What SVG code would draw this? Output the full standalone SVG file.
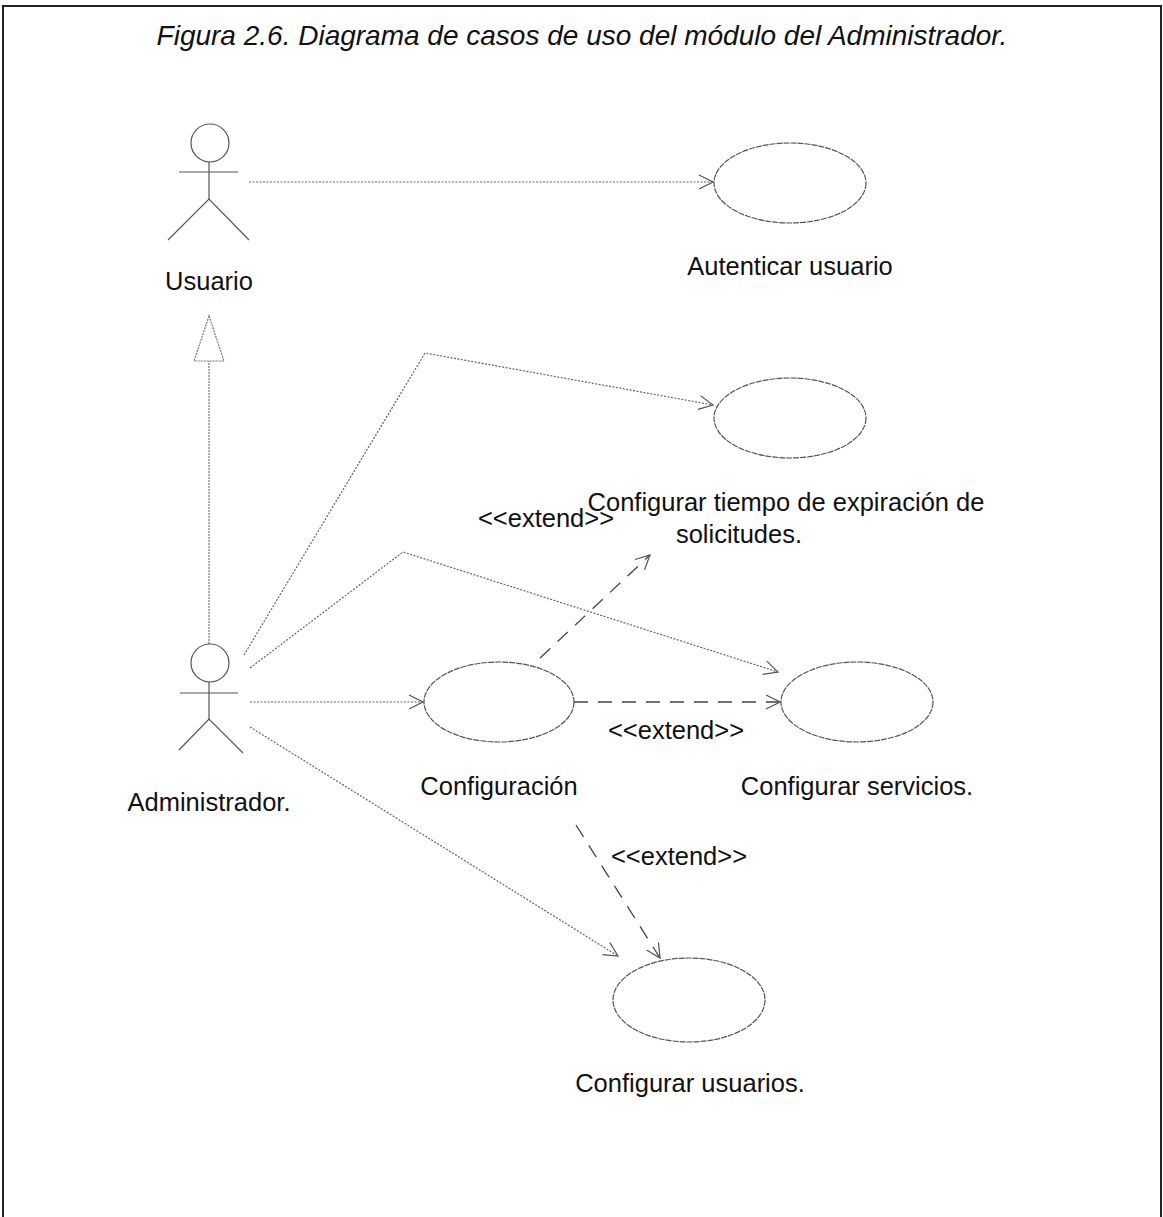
<svg xmlns="http://www.w3.org/2000/svg" width="1163" height="1217" viewBox="0 0 1163 1217">
  <style>
    .frame { fill: none; stroke: #222; stroke-width: 2; }
    .title { font-family: "Liberation Sans", Arial, sans-serif; font-size: 28px; font-style: italic; fill: #111; }
    .label { font-family: "Liberation Sans", Arial, sans-serif; font-size: 25.5px; fill: #111; }
    .uc { fill: none; stroke: #555; stroke-width: 1.2; stroke-dasharray: 6 1; }
    .actor { fill: none; stroke: #555; stroke-width: 1.2; }
    .assoc { fill: none; stroke: #666; stroke-width: 1.2; stroke-dasharray: 2 1.5; }
    .ext { fill: none; stroke: #444; stroke-width: 1.3; stroke-dasharray: 14 10; }
    .gen { fill: none; stroke: #777; stroke-width: 1.2; stroke-dasharray: 2 1; }
  </style>
  <defs>
    <marker id="open" viewBox="0 0 16 16" refX="15" refY="8" markerWidth="16" markerHeight="16" markerUnits="userSpaceOnUse" orient="auto">
      <path d="M1,1 L15,8 L1,15" fill="none" stroke="#555" stroke-width="1.2"/>
    </marker>
  </defs>

  <rect width="1163" height="1217" fill="#fff"/>
  <path class="frame" d="M3,1217 L3,6 L1161,6 L1161,1217"/>
  <text class="title" x="582" y="45" text-anchor="middle">Figura 2.6. Diagrama de casos de uso del módulo del Administrador.</text>

  <!-- connectors -->
  <g id="connectors">
    <line class="assoc" x1="249" y1="182" x2="713" y2="182" marker-end="url(#open)"/>
    <polyline class="assoc" points="244,655 425,353 713,405" marker-end="url(#open)"/>
    <polyline class="assoc" points="250,668 403,552 778,672" marker-end="url(#open)"/>
    <line class="assoc" x1="250" y1="702" x2="423" y2="702" marker-end="url(#open)"/>
    <line class="assoc" x1="250" y1="727" x2="618" y2="956" marker-end="url(#open)"/>
    <line class="ext" x1="574" y1="702" x2="780" y2="702" marker-end="url(#open)"/>
    <line class="ext" x1="540" y1="658" x2="650" y2="555" marker-end="url(#open)"/>
    <line class="ext" x1="576" y1="825" x2="660" y2="958" marker-end="url(#open)"/>
    <!-- generalization Administrador -> Usuario -->
    <line class="gen" x1="209" y1="644" x2="209" y2="361"/>
    <polygon points="209,316 194,361 224,361" fill="#fff" stroke="#777" stroke-width="1.2" stroke-dasharray="2 1"/>
    <text class="label" x="546" y="527" text-anchor="middle">&lt;&lt;extend&gt;&gt;</text>
    <text class="label" x="676" y="739" text-anchor="middle">&lt;&lt;extend&gt;&gt;</text>
    <text class="label" x="679" y="865" text-anchor="middle">&lt;&lt;extend&gt;&gt;</text>
  </g>

  <!-- actors -->
  <g id="actor-usuario">
    <circle class="actor" cx="210" cy="143" r="19"/>
    <line class="actor" x1="179" y1="172" x2="238" y2="172"/>
    <line class="actor" x1="209" y1="162" x2="209" y2="199"/>
    <polyline class="actor" points="168,240 209,199 249,240"/>
    <text class="label" x="209" y="290" text-anchor="middle">Usuario</text>
  </g>
  <g id="actor-administrador">
    <circle class="actor" cx="210" cy="663" r="19"/>
    <line class="actor" x1="180" y1="693" x2="238" y2="693"/>
    <line class="actor" x1="209" y1="682" x2="209" y2="719"/>
    <polyline class="actor" points="179,750 209,719 243,753"/>
    <text class="label" x="209" y="811" text-anchor="middle">Administrador.</text>
  </g>

  <!-- use cases -->
  <g id="uc-autenticar">
    <ellipse class="uc" cx="790" cy="183" rx="76" ry="40"/>
    <text class="label" x="790" y="275" text-anchor="middle">Autenticar usuario</text>
  </g>
  <g id="uc-expiracion">
    <ellipse class="uc" cx="790" cy="418" rx="76" ry="40"/>
    <text class="label" x="786" y="511" text-anchor="middle">Configurar tiempo de expiración de</text>
    <text class="label" x="739" y="543" text-anchor="middle">solicitudes.</text>
  </g>
  <g id="uc-configuracion">
    <ellipse class="uc" cx="499" cy="702" rx="75" ry="40"/>
    <text class="label" x="499" y="795" text-anchor="middle">Configuración</text>
  </g>
  <g id="uc-servicios">
    <ellipse class="uc" cx="857" cy="702" rx="76" ry="40"/>
    <text class="label" x="857" y="795" text-anchor="middle">Configurar servicios.</text>
  </g>
  <g id="uc-usuarios">
    <ellipse class="uc" cx="689" cy="1000" rx="76" ry="42"/>
    <text class="label" x="690" y="1092" text-anchor="middle">Configurar usuarios.</text>
  </g>
</svg>
